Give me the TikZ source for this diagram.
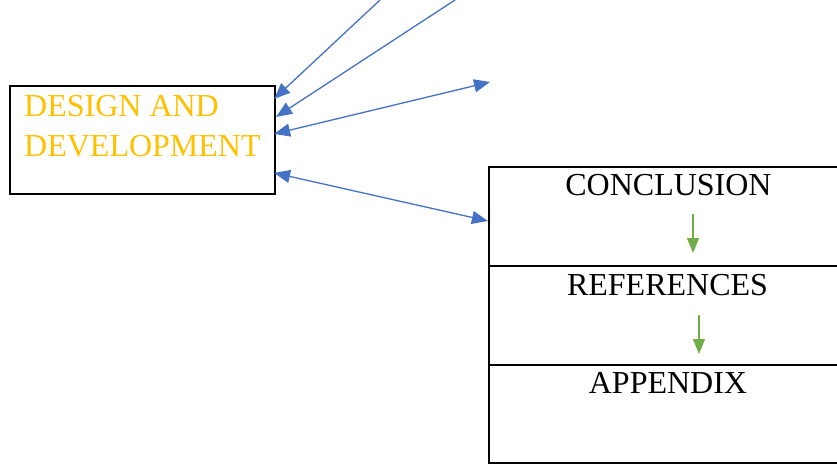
\documentclass[tikz,border=0pt]{standalone}
\usepackage{fontspec}
\setmainfont{Liberation Serif}
\usetikzlibrary{arrows.meta,calc}
\definecolor{linkblue}{HTML}{4472C4}
\definecolor{stepgreen}{HTML}{70AD47}
\definecolor{titlegold}{HTML}{FFC000}
\begin{document}
\begin{tikzpicture}[x=1pt,y=-1pt,
  box/.style={draw=black,line width=2.2pt,inner sep=0pt,rectangle},
  secbox/.style={box,minimum width=411pt,minimum height=99pt},
  label/.style={inner sep=0pt,font=\fontsize{32}{40}\selectfont},
  link/.style={draw=linkblue,line width=1.3pt,-{Triangle[length=16pt,width=13pt]}},
  dlink/.style={link,{Triangle[length=16pt,width=13pt]}-{Triangle[length=16pt,width=13pt]}},
  flow/.style={draw=stepgreen,line width=1.3pt,-{Triangle[length=15pt,width=12pt]}}]
\useasboundingbox (0,0) rectangle (837,465);
\clip (0,0) rectangle (837,465);

% left block
\node[box,minimum width=265pt,minimum height=108pt] (design) at (142.5,140) {};
\node[label,text=titlegold,anchor=north west,align=left] (designlbl) at (24,95)
  {DESIGN AND\\DEVELOPMENT};

% stacked sections on the right
\node[secbox] (conc) at (694.5,216.5) {};
\node[secbox] (refs) at (694.5,315.5) {};
\node[secbox,minimum height=98pt] (appx) at (694.5,414) {};
\node[label,anchor=base] (conclbl) at (668.5,196) {CONCLUSION};
\node[label,anchor=base] (refslbl) at (667.5,295) {REFERENCES};
\node[label,anchor=base] (appxlbl) at (668,393) {APPENDIX};

% green flow arrows between sections
\coordinate (g1s) at (693,214);
\coordinate (g1e) at (693,253);
\coordinate (g2s) at (699,315);
\coordinate (g2e) at (699,354);
\draw[flow] (g1s) -- (g1e);
\draw[flow] (g2s) -- (g2e);

% blue links
\coordinate (in1) at (380,0);
\coordinate (in2) at (455,0);
\coordinate (out1) at (490,82);
\draw[link] (in1) -- ([xshift=-2pt,yshift=-14pt]design.north east);
\draw[link] (in2) -- ([yshift=-32pt]design.north east);
\draw[dlink] ([xshift=-2pt,yshift=-49pt]design.north east) -- (out1);
\draw[dlink] ([xshift=-2pt,yshift=-88pt]design.north east) -- ([yshift=-4.5pt]conc.west);
\end{tikzpicture}
\end{document}
